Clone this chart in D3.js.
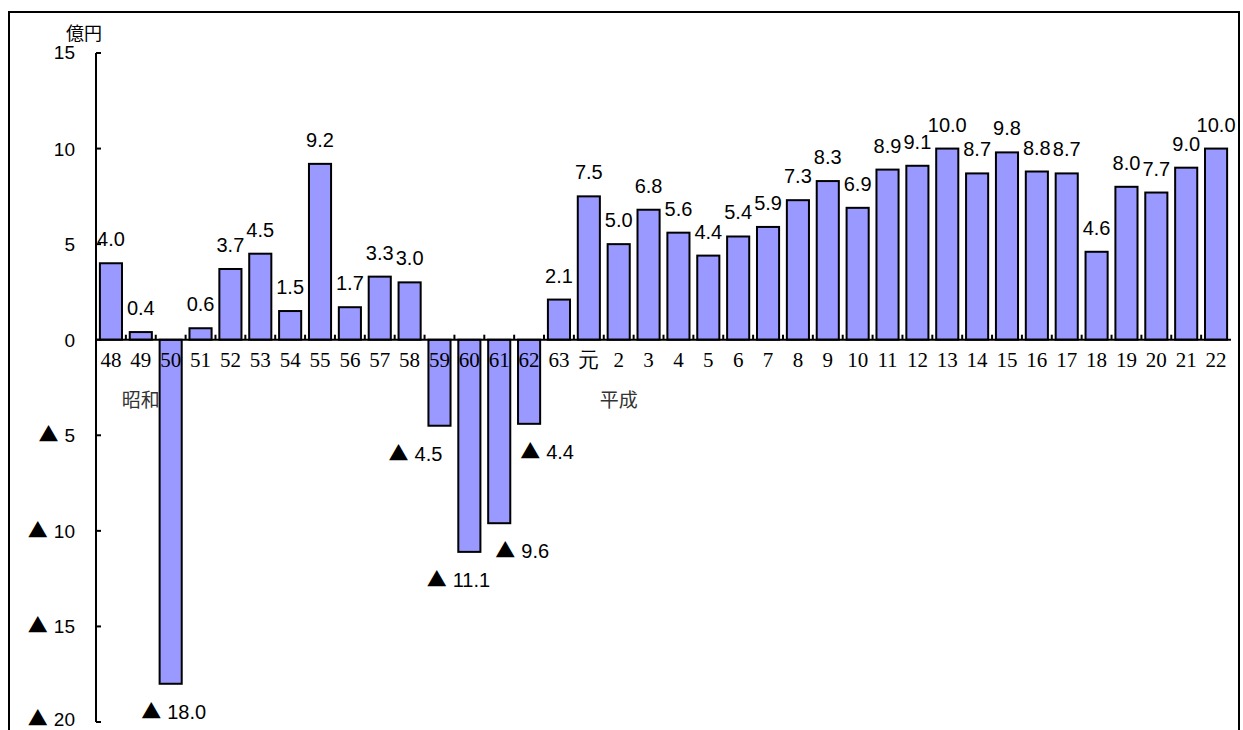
<!DOCTYPE html>
<html><head><meta charset="utf-8">
<script src="https://cdn.jsdelivr.net/npm/d3@7"></script>
<style>body{margin:0;background:#fff}</style>
</head><body>
<svg id="chart" width="1243" height="730"></svg>
<script>
var categories = ["48","49","50","51","52","53","54","55","56","57","58","59","60","61","62","63","元","2","3","4","5","6","7","8","9","10","11","12","13","14","15","16","17","18","19","20","21","22"]
var values = [4.0,0.4,-18.0,0.6,3.7,4.5,1.5,9.2,1.7,3.3,3.0,-4.5,-11.1,-9.6,-4.4,2.1,7.5,5.0,6.8,5.6,4.4,5.4,5.9,7.3,8.3,6.9,8.9,9.1,10.0,8.7,9.8,8.8,8.7,4.6,8.0,7.7,9.0,10.0]
var yTicks = [15,10,5,0,-5,-10,-15,-20]
var eraLabels = [{at:"49", text:"昭和"}, {at:"2", text:"平成"}]
// label nudges for the negative bars (as placed in the original)
var negDx = {"50":3,"59":-24,"60":-11,"61":23,"62":18}

var svg = d3.select("#chart")
var left = 96, right = 1231
var sans = "Liberation Sans, Arial"

svg.append("rect").attr("x",9).attr("y",12).attr("width",1230).attr("height",730)
   .attr("fill","none").attr("stroke","#000").attr("stroke-width",2)

var x = d3.scaleBand().domain(categories).range([left,right]).paddingInner(0.26).paddingOuter(0.13)
var y = d3.scaleLinear().domain([-20,15]).range([722,53])
var fmt = d3.format(".1f")

svg.append("g").selectAll("rect").data(values).enter().append("rect")
   .attr("x", (d,i) => x(categories[i]))
   .attr("y", d => y(Math.max(0,d)))
   .attr("width", x.bandwidth())
   .attr("height", d => Math.abs(y(d)-y(0)))
   .attr("fill","#9999ff").attr("stroke","#000").attr("stroke-width",2)

function tri(sel, n){
  sel.append("tspan").style("font-family","Noto Sans CJK JP").style("font-size","20px").text("▲")
  sel.append("tspan").attr("dx",6).text(n)
}

// y axis
svg.append("line").attr("x1",left).attr("x2",left).attr("y1",y(15)).attr("y2",y(-20)).attr("stroke","#000").attr("stroke-width",2)
svg.append("g").selectAll("line").data(yTicks).enter().append("line")
   .attr("x1",left).attr("x2",left+5).attr("y1",d=>y(d)).attr("y2",d=>y(d)).attr("stroke","#000").attr("stroke-width",2)
svg.append("g").selectAll("text").data(yTicks).enter().append("text")
   .attr("x",75).attr("y",d=>y(d)+ (d==15?6:(d==-20?4:7))).attr("text-anchor","end")
   .style("font-family",sans).style("font-size","19px")
   .each(function(d){ var t=d3.select(this); if(d<0) tri(t,-d); else t.text(d) })
svg.append("text").attr("x",66).attr("y",40).text("億円")
   .style("font-family","Noto Sans CJK JP").style("font-size","18px")

// x axis
var step = x.step()
svg.append("line").attr("x1",left).attr("x2",right).attr("y1",y(0)).attr("y2",y(0)).attr("stroke","#000").attr("stroke-width",2)
svg.append("g").selectAll("line").data(categories).enter().append("line")
   .attr("x1",d=>x(d)-(step-x.bandwidth())/2).attr("x2",d=>x(d)-(step-x.bandwidth())/2)
   .attr("y1",y(0)).attr("y2",y(0)-5)
   .attr("stroke","#000").attr("stroke-width",2)
svg.append("g").selectAll("text").data(categories).enter().append("text")
   .attr("x",d=>x(d)+x.bandwidth()/2).attr("y",y(0)+27).attr("text-anchor","middle")
   .style("font-family","Liberation Serif").style("font-size","21px")
   .text(d=>d)
svg.append("g").selectAll("text").data(eraLabels).enter().append("text")
   .attr("x",d=>x(d.at)+x.bandwidth()/2).attr("y",y(0)+67).attr("text-anchor","middle")
   .style("font-family","Noto Sans CJK JP").style("font-size","19px").style("fill","#333")
   .text(d=>d.text)

// value labels
svg.append("g").selectAll("text").data(values).enter().append("text")
   .attr("x",(d,i)=>x(categories[i])+x.bandwidth()/2 + (d<0 ? (negDx[categories[i]]||0) : 0))
   .attr("y",d=> d<0 ? y(d)+35 : y(d)-17)
   .attr("text-anchor","middle")
   .style("font-family",sans).style("font-size","20px")
   .each(function(d){ var t=d3.select(this); if(d<0) tri(t,fmt(-d)); else t.text(fmt(d)) })
</script>
</body></html>
